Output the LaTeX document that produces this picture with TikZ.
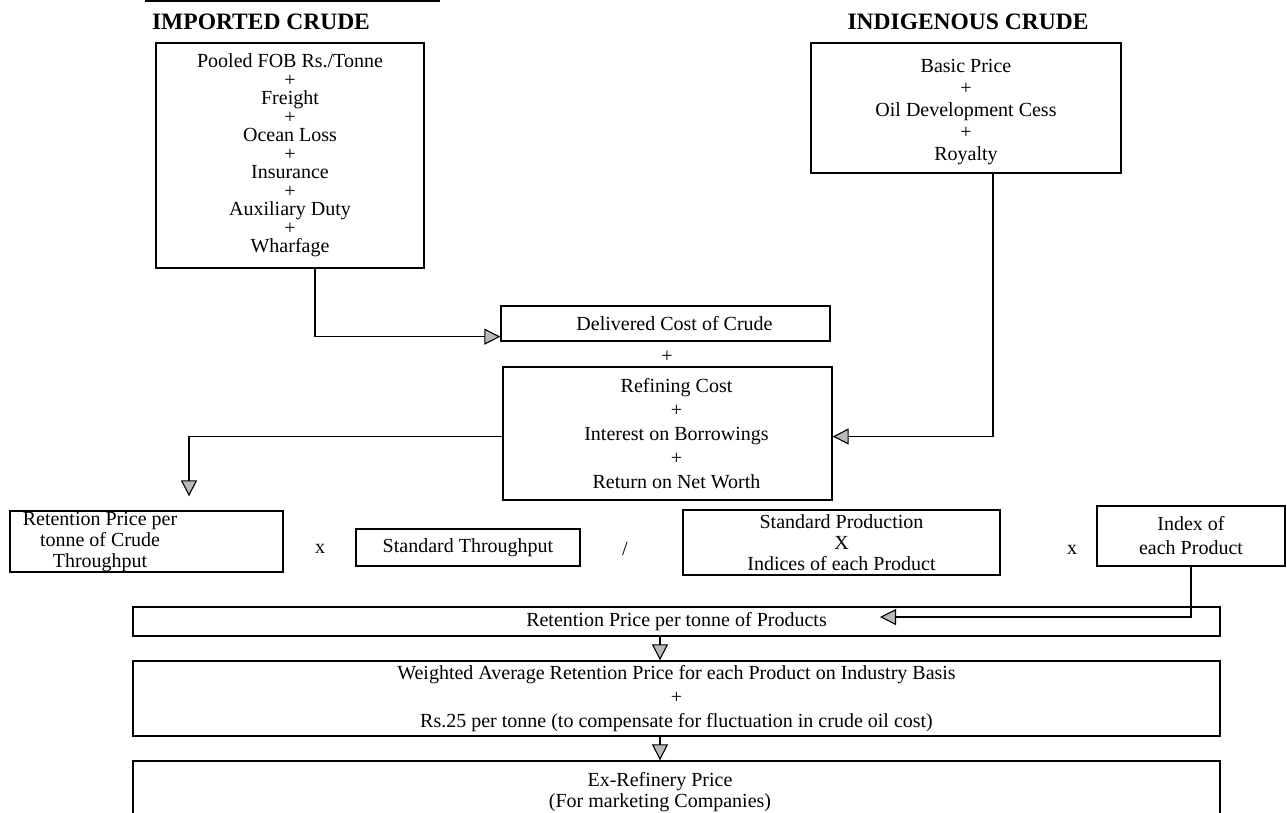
\documentclass[tikz,border=0pt]{standalone}
\usepackage{fontspec}
\setmainfont{Liberation Serif}
\usetikzlibrary{arrows.meta,calc}
\begin{document}
\begin{tikzpicture}[x=1pt,y=-1pt,
  box/.style={draw,line width=1.3pt,inner sep=0pt,align=center},
  txt/.style={inner sep=0pt,align=center},
  ln/.style={line width=1.3pt},
  arr/.style={line width=1.3pt,-{Triangle[length=16pt,width=16pt,fill=gray!55,line width=1.1pt]}},
  head/.style={txt,font=\fontsize{23.5}{24}\selectfont\bfseries},
  fa/.style={font=\fontsize{20}{18.5}\selectfont},
  fb/.style={font=\fontsize{20}{22}\selectfont},
  fc/.style={font=\fontsize{20}{24}\selectfont},
  fd/.style={font=\fontsize{20}{21}\selectfont}
]
\useasboundingbox (0,0) rectangle (1287,812);
\clip (0,0) rectangle (1287,812);
\draw[ln] (145,1) -- (440,1);

\node[head] (himp) at (261,22) {IMPORTED CRUDE};
\node[head] (hind) at (968,22) {INDIGENOUS CRUDE};

\node[box,fa,minimum width=268pt,minimum height=225pt] (imp) at (290,155.5)
  {Pooled FOB Rs./Tonne\\+\\Freight\\+\\Ocean Loss\\+\\Insurance\\+\\Auxiliary Duty\\+\\Wharfage};
\node[box,minimum width=310pt,minimum height=130pt,
  label={[fb,align=center,yshift=-4pt]center:Basic Price\\+\\Oil Development Cess\\+\\Royalty}] (ind) at (966,108) {};

\node[box,minimum width=329pt,minimum height=35pt,
  label={[fa,xshift=9pt]center:Delivered Cost of Crude}] (del) at (665.5,323.5) {};
\node[txt,fa] (plus1) at (667,357) {+};
\node[box,minimum width=329pt,minimum height=133pt,
  label={[fc,align=center,xshift=9pt]center:Refining Cost\\+\\Interest on Borrowings\\+\\Return on Net Worth}] (ref) at (667.5,433.5) {};

\node[box,minimum width=273pt,minimum height=61pt] (ret) at (146.5,541.5) {};
\node[txt,fd] (rettxt) at (100,542) {Retention Price per\\tonne of Crude\\Throughput};
\node[txt,fa] (x1) at (320,549) {x};
\node[box,fa,minimum width=224pt,minimum height=37pt] (thr) at (468,547.5) {Standard Throughput};
\node[txt,fa] (sl) at (625,549) {/};
\node[box,fd,minimum width=317pt,minimum height=65pt] (sp) at (841.5,542.5)
  {Standard Production\\X\\Indices of each Product};
\node[txt,fa] (x2) at (1072,550) {x};
\node[box,fc,minimum width=188pt,minimum height=60pt] (idx) at (1191,536) {Index of\\each Product};

\node[box,fa,minimum width=1087pt,minimum height=29pt] (prod) at (676.5,621.5) {Retention Price per tonne of Products};
\node[box,fc,minimum width=1087pt,minimum height=75pt] (wgt) at (676.5,698.5)
  {Weighted Average Retention Price for each Product on Industry Basis\\+\\Rs.25 per tonne (to compensate for fluctuation in crude oil cost)};
\node[box,minimum width=1087pt,minimum height=80pt] (ex) at (676.5,801) {};
\node[txt,fd] (extxt) at (660,792) {Ex-Refinery Price\\(For marketing Companies)};

\coordinate (c1) at (315,0);
\coordinate (c2) at (993,0);
\coordinate (c3) at (189,0);
\coordinate (c4) at (660,0);
\coordinate (prodtip) at (880,617);

\draw[arr] (imp.south -| c1) |- ([yshift=5pt]del.south west);
\draw[arr] (ind.south -| c2) |- ([yshift=-3pt]ref.east);
\draw[arr,shorten >=14pt] ([yshift=-3pt]ref.west) -| (ret.north -| c3);
\draw[arr] (idx.south) |- (prodtip);
\draw[arr] (prod.south -| c4) -- (wgt.north -| c4);
\draw[arr] (wgt.south -| c4) -- (ex.north -| c4);
\end{tikzpicture}
\end{document}
